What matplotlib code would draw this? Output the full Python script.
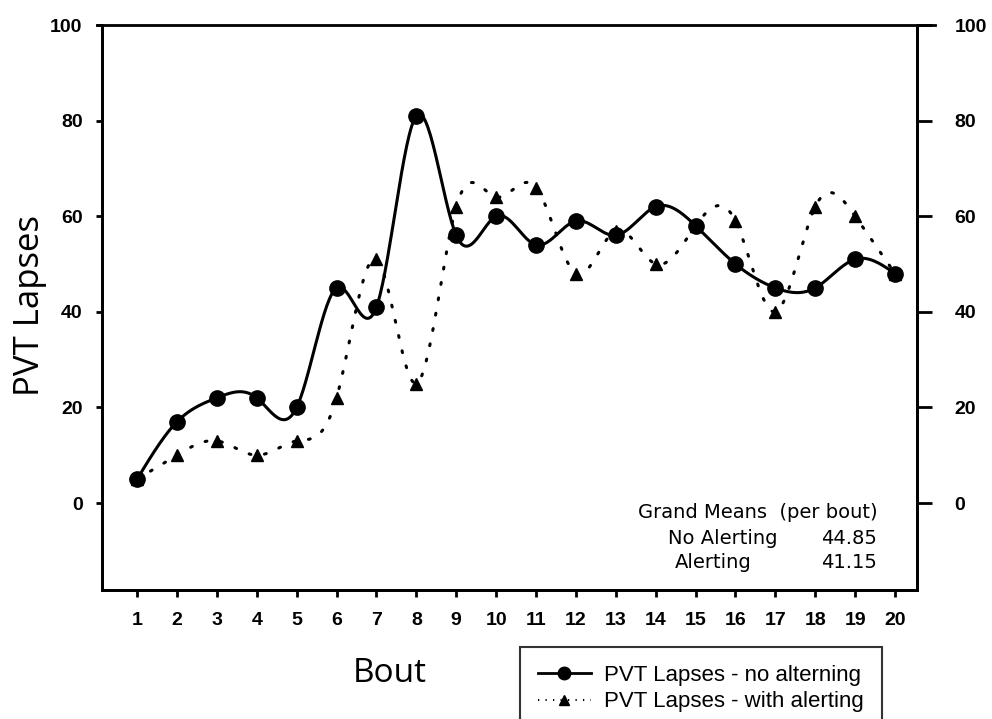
import numpy as np
import matplotlib
matplotlib.use("Agg")
import matplotlib.pyplot as plt
from matplotlib.lines import Line2D

# ---- data ----
bouts = list(range(1, 21))
no_alerting = [5, 17, 22, 22, 20, 45, 41, 81, 56, 60, 54, 59, 56, 62, 58, 50, 45, 45, 51, 48]
with_alerting = [5, 10, 13, 10, 13, 22, 51, 25, 62, 64, 66, 48, 57, 50, 58, 59, 40, 62, 60, 48]
y_ticks = [0, 20, 40, 60, 80, 100]
legend_labels = ["PVT Lapses - no alterning", "PVT Lapses - with alerting"]
grand_header = "Grand Means  (per bout)"
grand_rows = [("No Alerting", "44.85"), ("Alerting", "41.15")]


def natural_spline(x, y, xs):
    x = np.asarray(x, float); y = np.asarray(y, float)
    n = len(x); h = np.diff(x)
    A = np.zeros((n, n)); b = np.zeros(n)
    A[0, 0] = 1; A[-1, -1] = 1
    for i in range(1, n - 1):
        A[i, i - 1] = h[i - 1]
        A[i, i] = 2 * (h[i - 1] + h[i])
        A[i, i + 1] = h[i]
        b[i] = 6 * ((y[i + 1] - y[i]) / h[i] - (y[i] - y[i - 1]) / h[i - 1])
    M = np.linalg.solve(A, b)
    idx = np.clip(np.searchsorted(x, xs) - 1, 0, n - 2)
    x0 = x[idx]; x1 = x[idx + 1]; hh = x1 - x0
    t0 = x1 - xs; t1 = xs - x0
    return (M[idx] * t0**3 / (6 * hh) + M[idx + 1] * t1**3 / (6 * hh)
            + (y[idx] / hh - M[idx] * hh / 6) * t0
            + (y[idx + 1] / hh - M[idx + 1] * hh / 6) * t1)


W, H = 992, 719
fig = plt.figure(figsize=(W / 100, H / 100), dpi=100)
L, R, T, B = 102, 917, 25, 590
ax = fig.add_axes([L / W, 1 - B / H, (R - L) / W, (B - T) / H])

xs = np.linspace(1, 20, 600)
ax.plot(xs, natural_spline(bouts, with_alerting, xs), color="black",
        lw=2.2, linestyle=(0, (0.6, 4.5)), dash_capstyle="round")
ax.plot(bouts, with_alerting, linestyle="none", marker="^", color="black", ms=8.5)
ax.plot(xs, natural_spline(bouts, no_alerting, xs), color="black", lw=2.2)
ax.plot(bouts, no_alerting, linestyle="none", marker="o", color="black", ms=11)

tick_font = dict(fontsize=14, fontweight="bold", family="Liberation Sans")
ax.set_xlim(0.12, 20.55)
ax.set_ylim(-18.2, 100)
ax.set_xticks(bouts)
ax.set_xticklabels([str(b) for b in bouts], **tick_font)
ax.set_yticks(y_ticks)
ax.set_yticklabels([str(v) for v in y_ticks], **tick_font)
ax.tick_params(axis="x", direction="out", length=5, width=2, pad=11)
ax.tick_params(axis="y", direction="out", length=4, width=2, pad=10)

ax2 = ax.twinx()
ax2.set_ylim(ax.get_ylim())
ax2.set_yticks(y_ticks)
ax2.set_yticklabels([str(v) for v in y_ticks], **tick_font)
ax2.tick_params(axis="y", direction="out", length=11, width=2, pad=16)

for a in (ax, ax2):
    for s in a.spines.values():
        s.set_linewidth(2)
ax.spines["top"].set_visible(False)
ax2.spines["top"].set_visible(False)
fig.add_artist(Line2D([97 / W, 935 / W], [1 - T / H, 1 - T / H], color="black", lw=2))

fig.text(30 / W, 1 - 306 / H, "PVT Lapses", rotation=90, ha="center", va="center",
         fontsize=25, family="Open Sans")
fig.text(390 / W, 1 - 673 / H, "Bout", ha="center", va="center",
         fontsize=24, family="Open Sans")

fs = 14
gf = dict(fontsize=fs, family="DejaVu Sans", va="center")
fig.text(878 / W, 1 - 513 / H, grand_header, ha="right", **gf)
fig.text(668 / W, 1 - 538 / H, grand_rows[0][0], ha="left", **gf)
fig.text(877 / W, 1 - 538 / H, grand_rows[0][1], ha="right", **gf)
fig.text(675 / W, 1 - 563 / H, grand_rows[1][0], ha="left", **gf)
fig.text(877 / W, 1 - 563 / H, grand_rows[1][1], ha="right", **gf)

h1 = Line2D([], [], color="black", lw=2, marker="o", ms=9)
h2 = Line2D([], [], color="black", lw=1.5, linestyle=(0, (0.6, 3)), marker="^", ms=6.5)
leg = fig.legend([h1, h2], legend_labels, loc="upper left",
                 bbox_to_anchor=(520 / W, 1 - 647 / H), frameon=True, fancybox=False,
                 prop={"family": "Liberation Sans", "size": 16}, handlelength=2.4,
                 borderpad=0.8, labelspacing=0.25, handletextpad=0.6, borderaxespad=0)
leg.get_frame().set_edgecolor("black")
leg.get_frame().set_linewidth(1.5)

fig.savefig("out.png", dpi=100)
